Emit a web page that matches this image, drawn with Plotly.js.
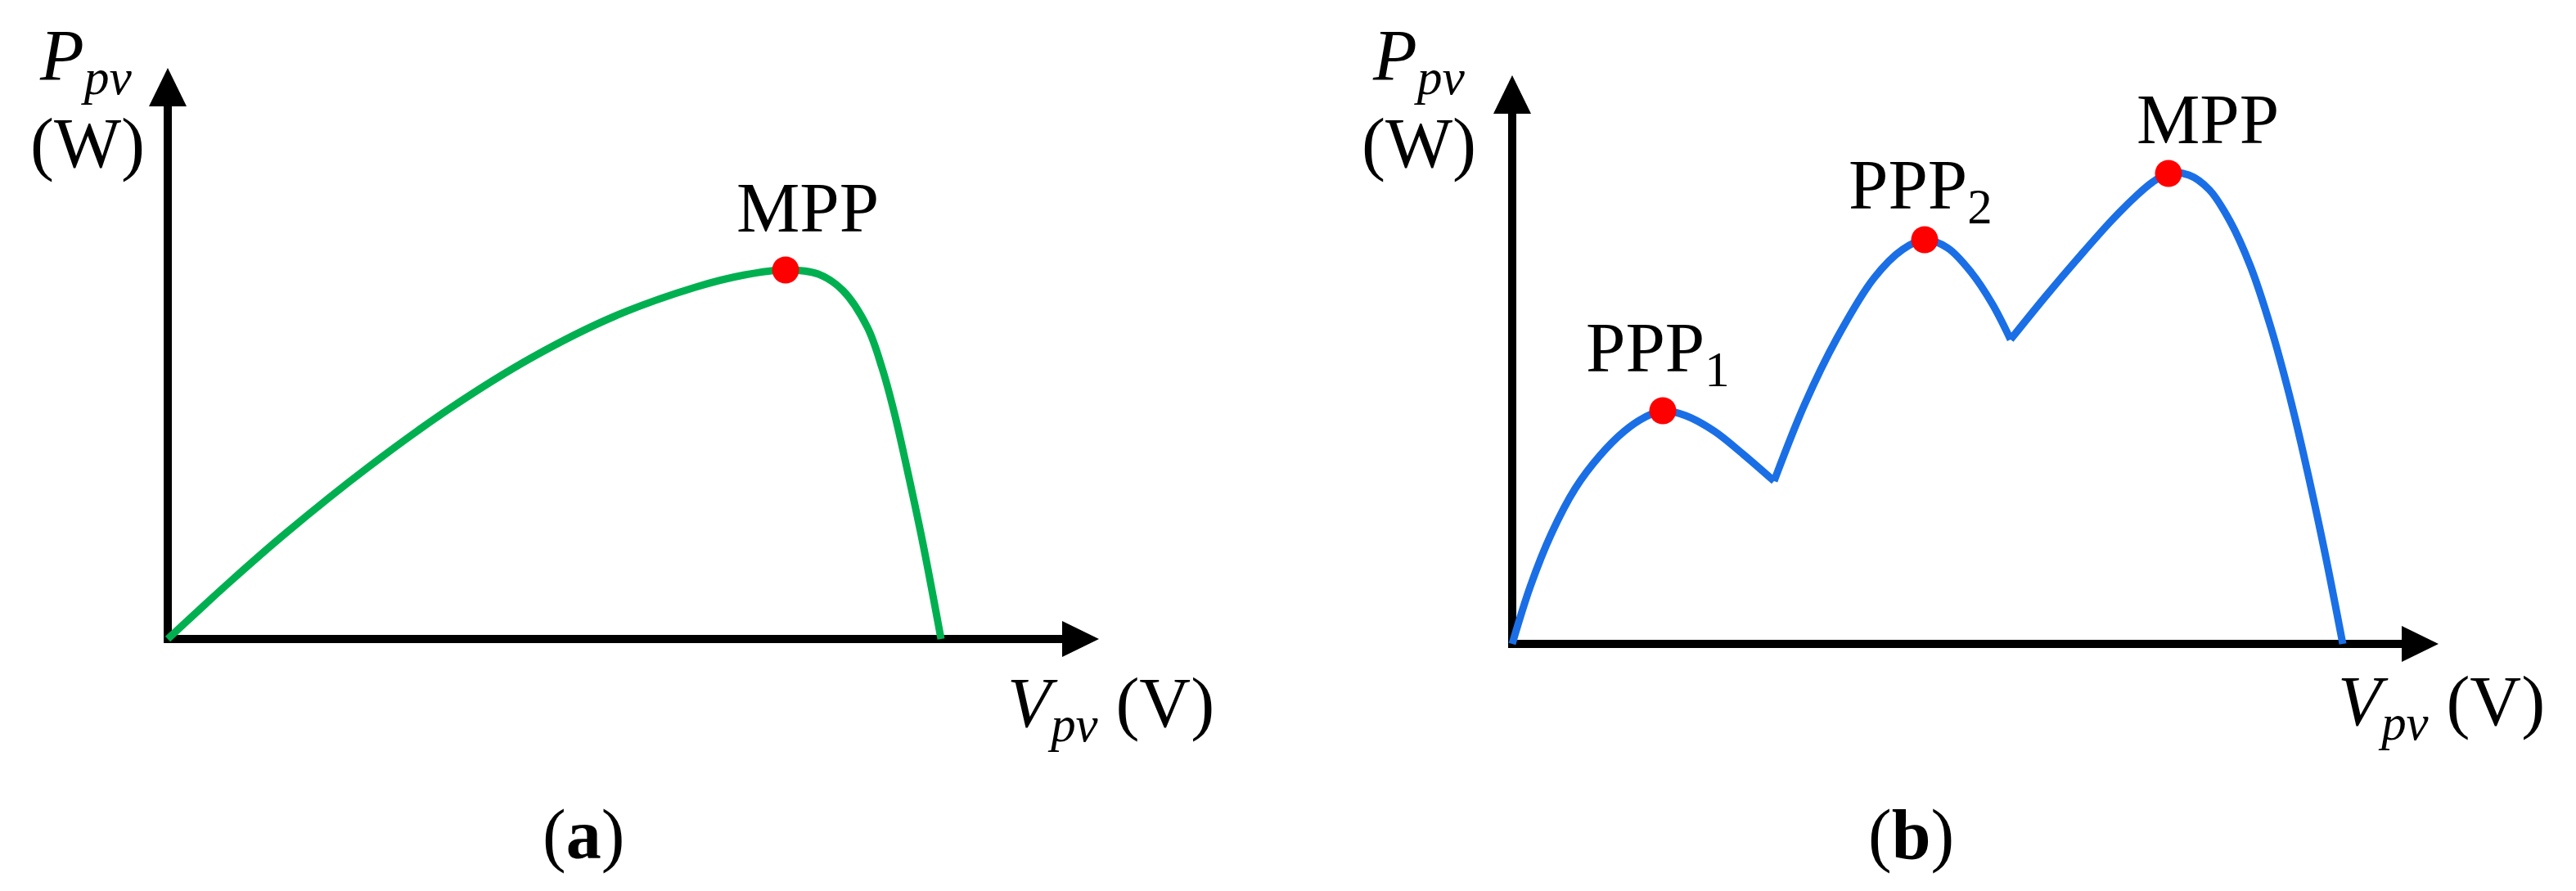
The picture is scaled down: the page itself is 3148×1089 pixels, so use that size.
<!DOCTYPE html>
<html>
<head>
<meta charset="utf-8">
<script src="https://cdn.plot.ly/plotly-3.0.1.min.js"></script>
<style>
  html, body { margin: 0; padding: 0; background: #fff; }
  #chart { width: 3148px; height: 1089px; }
</style>
</head>
<body>
<div id="chart"></div>
<script>
// (a) P-V curve, uniform irradiance: one peak
const voltageA = [0, 7.5, 14.5, 24.5, 34.5, 44.5, 54.5, 64.5, 70.5, 75.5, 79.5, 82.5, 85.5, 87.3, 88.8, 90.5, 92.3, 94.5];
const powerA   = [0, 6.9, 13.0, 21.0, 28.2, 34.4, 39.4, 43.0, 44.5, 45.1, 44.6, 42.6, 38.1, 33.1, 27.6, 20.1, 11.6, 0];
const mppIndexA = 9;

// (b) P-V curve under partial shading: three local peaks
const voltageB = [0, 2.2, 4.8, 7.7, 10.7, 13.7, 16.2, 18.4, 21.2, 24.7, 28.2, 32.0,
                  35.7, 39.7, 44.2, 47.7, 50.4, 53.2, 56.1, 58.7, 60.9,
                  65.2, 69.2, 73.2, 76.2, 78.2, 80.2, 82.7, 85.2, 87.7, 90.2, 92.7, 94.9, 96.7, 99.2, 101.5];
const powerB   = [0, 7.0, 13.5, 19.0, 23.0, 26.0, 27.7, 28.5, 27.9, 26.0, 23.2, 19.9,
                  29.2, 37.4, 44.7, 48.2, 49.4, 48.4, 45.4, 41.5, 37.2,
                  42.5, 47.2, 51.7, 54.7, 56.4, 57.5, 57.3, 55.5, 51.7, 46.2, 38.7, 30.7, 23.2, 11.7, 0];
const kneeIndexB = [11, 20];          // where the bypass diodes switch
const peakIndexB = [7, 16, 26];
const peakLabelsB = ['PPP<sub>1</sub>', 'PPP<sub>2</sub>', 'MPP'];

const W = 3148, H = 1089;
const serif = '"Liberation Serif", "Times New Roman", Times, serif';
const green = '#00B050', blue = '#1A6FE6', red = '#FF0000';

const traces = [];

traces.push({
  x: voltageA, y: powerA, xaxis: 'x', yaxis: 'y',
  mode: 'lines', line: { color: green, width: 9, shape: 'spline' },
  hoverinfo: 'skip'
});
traces.push({
  x: [voltageA[mppIndexA]], y: [powerA[mppIndexA]], xaxis: 'x', yaxis: 'y',
  mode: 'markers', marker: { color: red, size: 33 }
});

// split curve (b) at the knees so the spline keeps them sharp
const cuts = [0].concat(kneeIndexB, [voltageB.length - 1]);
for (let i = 0; i < cuts.length - 1; i++) {
  traces.push({
    x: voltageB.slice(cuts[i], cuts[i + 1] + 1),
    y: powerB.slice(cuts[i], cuts[i + 1] + 1),
    xaxis: 'x2', yaxis: 'y2',
    mode: 'lines', line: { color: blue, width: 9, shape: 'spline' },
    hoverinfo: 'skip'
  });
}
traces.push({
  x: peakIndexB.map(i => voltageB[i]), y: peakIndexB.map(i => powerB[i]),
  xaxis: 'x2', yaxis: 'y2',
  mode: 'markers', marker: { color: red, size: 33 }
});

// black axes with arrow heads, in data units
function axisArrows(xref, yref, xEnd, yEnd) {
  const k = { color: '#000', width: 10 };
  return [
    { type: 'line', xref, yref, layer: 'below', x0: 0, y0: -0.5, x1: 0, y1: yEnd - 4, line: k },
    { type: 'line', xref, yref, layer: 'below', x0: -0.5, y0: 0, x1: xEnd - 4, y1: 0, line: k },
    { type: 'path', xref, yref, layer: 'below', fillcolor: '#000', line: { width: 0 },
      path: `M -2.3 ${yEnd - 4.7} L 2.3 ${yEnd - 4.7} L 0 ${yEnd} Z` },
    { type: 'path', xref, yref, layer: 'below', fillcolor: '#000', line: { width: 0 },
      path: `M ${xEnd - 4.5} -2.2 L ${xEnd - 4.5} 2.2 L ${xEnd} 0 Z` }
  ];
}

function label(text, px, py, size) {
  return {
    xref: 'paper', yref: 'paper', x: px / W, y: 1 - py / H,
    xanchor: 'center', yanchor: 'middle', showarrow: false, text,
    font: { family: serif, size: size, color: '#000' }
  };
}

function peakLabel(text, xref, yref, x, y, dx, dy) {
  return {
    xref, yref, x, y, xshift: dx, yshift: dy,
    xanchor: 'center', yanchor: 'middle', showarrow: false, text,
    font: { family: serif, size: 87, color: '#000' }
  };
}

const annotations = [
  label('<i>P</i><sub><i>pv</i></sub>', 105, 74, 88),
  label('(W)', 107, 174, 87),
  label('<i>V</i><sub><i>pv</i></sub> (V)', 1357, 864, 87),
  label('(<b>a</b>)', 713, 1020, 86),
  label('<i>P</i><sub><i>pv</i></sub>', 1734, 74, 88),
  label('(W)', 1734, 174, 87),
  label('<i>V</i><sub><i>pv</i></sub> (V)', 2983, 862, 87),
  label('(<b>b</b>)', 2335, 1020, 86),
  peakLabel('MPP', 'x', 'y', voltageA[mppIndexA], powerA[mppIndexA], 27, 77)
];
const shiftsB = [[-6, 72], [-5, 62], [48, 67]];
peakIndexB.forEach((idx, i) => {
  annotations.push(peakLabel(peakLabelsB[i], 'x2', 'y2', voltageB[idx], powerB[idx], shiftsB[i][0], shiftsB[i][1]));
});

const hidden = { visible: false, showgrid: false, zeroline: false, fixedrange: true };

const layout = {
  width: W, height: H,
  margin: { l: 0, r: 0, t: 0, b: 0 },
  paper_bgcolor: '#fff', plot_bgcolor: '#fff',
  showlegend: false,
  xaxis:  Object.assign({ domain: [0, 0.5], range: [-20.5, 136.9], anchor: 'y' }, hidden),
  yaxis:  Object.assign({ domain: [0, 1], range: [-30.8, 78.1], anchor: 'x' }, hidden),
  xaxis2: Object.assign({ domain: [0.5, 1], range: [-27.4, 130.0], anchor: 'y2' }, hidden),
  yaxis2: Object.assign({ domain: [0, 1], range: [-30.2, 78.7], anchor: 'x2' }, hidden),
  shapes: axisArrows('x', 'y', 113.8, 69.8).concat(axisArrows('x2', 'y2', 113.2, 69.5)),
  annotations: annotations
};

Plotly.newPlot('chart', traces, layout, { displayModeBar: false, staticPlot: true });
</script>
</body>
</html>
